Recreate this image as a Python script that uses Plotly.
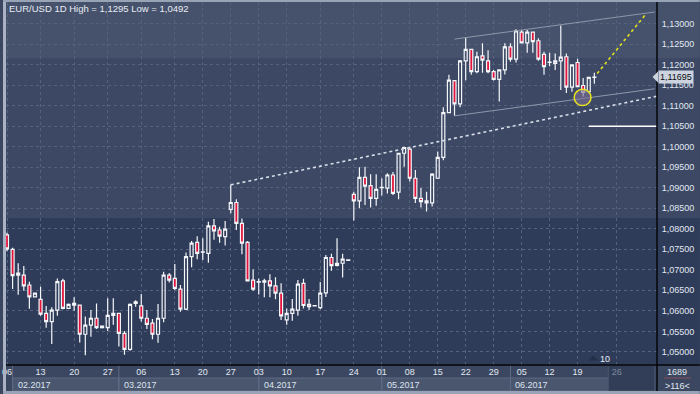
import plotly.graph_objects as go

# ---------------- data ----------------
bar_index = list(range(106))
opens = [1.0785, 1.0750, 1.0687, 1.0687, 1.0663, 1.0634, 1.0628, 1.0594, 1.0574, 1.0602,
         1.0673, 1.0606, 1.0618, 1.0614, 1.0543, 1.0565, 1.0582, 1.0559, 1.0559, 1.0589,
         1.0594, 1.0545, 1.0506, 1.0618, 1.0612, 1.0582, 1.0570, 1.0543, 1.0582, 1.0687,
         1.0679, 1.0653, 1.0604, 1.0732, 1.0767, 1.0743, 1.0740, 1.0807, 1.0797, 1.0781,
         1.0847, 1.0864, 1.0813, 1.0767, 1.0675, 1.0670, 1.0670, 1.0673, 1.0661, 1.0643,
         1.0578, 1.0594, 1.0602, 1.0667, 1.0616, 1.0612, 1.0608, 1.0644, 1.0730, 1.0711,
         1.0716, 1.0723, 1.0884, 1.0868, 1.0925, 1.0905, 1.0874, 1.0900, 1.0899, 1.0931,
         1.0889, 1.0984, 1.0994, 1.0923, 1.0874, 1.0868, 1.0863, 1.0923, 1.0974, 1.1083,
         1.1161, 1.1104, 1.1209, 1.1237, 1.1183, 1.1221, 1.1209, 1.1183, 1.1164, 1.1187,
         1.1243, 1.1213, 1.1279, 1.1253, 1.1279, 1.1258, 1.1225, 1.1205, 1.1203, 1.1209,
         1.1219, 1.1145, 1.1205, 1.1149, 1.1134, 1.1169]
highs = [1.0790, 1.0754, 1.0716, 1.0709, 1.0671, 1.0644, 1.0659, 1.0612, 1.0609, 1.0679,
         1.0678, 1.0618, 1.0633, 1.0615, 1.0586, 1.0602, 1.0618, 1.0564, 1.0631, 1.0631,
         1.0595, 1.0551, 1.0618, 1.0626, 1.0641, 1.0602, 1.0580, 1.0617, 1.0695, 1.0692,
         1.0714, 1.0663, 1.0742, 1.0770, 1.0782, 1.0777, 1.0817, 1.0824, 1.0805, 1.0819,
         1.0907, 1.0872, 1.0825, 1.0770, 1.0701, 1.0679, 1.0678, 1.0689, 1.0682, 1.0667,
         1.0606, 1.0629, 1.0675, 1.0678, 1.0629, 1.0614, 1.0670, 1.0736, 1.0739, 1.0777,
         1.0739, 1.0725, 1.0890, 1.0950, 1.0951, 1.0933, 1.0933, 1.0923, 1.0935, 1.0938,
         1.0985, 1.1000, 1.1000, 1.0943, 1.0899, 1.0890, 1.0935, 1.0988, 1.1096, 1.1175,
         1.1162, 1.1211, 1.1266, 1.1238, 1.1231, 1.1252, 1.1235, 1.1187, 1.1188, 1.1252,
         1.1252, 1.1286, 1.1284, 1.1284, 1.1280, 1.1264, 1.1231, 1.1229, 1.1227, 1.1295,
         1.1227, 1.1200, 1.1214, 1.1167, 1.1170, 1.1180]
lows = [1.0745, 1.0653, 1.0639, 1.0649, 1.0605, 1.0633, 1.0588, 1.0559, 1.0519, 1.0588,
        1.0604, 1.0605, 1.0600, 1.0523, 1.0492, 1.0537, 1.0556, 1.0557, 1.0551, 1.0566,
        1.0513, 1.0493, 1.0503, 1.0610, 1.0574, 1.0556, 1.0531, 1.0522, 1.0572, 1.0669,
        1.0651, 1.0598, 1.0602, 1.0706, 1.0726, 1.0724, 1.0717, 1.0773, 1.0766, 1.0759,
        1.0838, 1.0797, 1.0738, 1.0672, 1.0649, 1.0640, 1.0633, 1.0633, 1.0628, 1.0578,
        1.0566, 1.0576, 1.0588, 1.0606, 1.0602, 1.0611, 1.0604, 1.0634, 1.0698, 1.0708,
        1.0681, 1.0723, 1.0820, 1.0850, 1.0858, 1.0852, 1.0856, 1.0881, 1.0886, 1.0882,
        1.0872, 1.0951, 1.0915, 1.0863, 1.0852, 1.0842, 1.0854, 1.0921, 1.0967, 1.1082,
        1.1075, 1.1096, 1.1162, 1.1175, 1.1179, 1.1180, 1.1179, 1.1161, 1.1110, 1.1176,
        1.1207, 1.1205, 1.1252, 1.1229, 1.1229, 1.1209, 1.1175, 1.1196, 1.1187, 1.1138,
        1.1131, 1.1134, 1.1145, 1.1122, 1.1131, 1.1153]
closes = [1.0751, 1.0686, 1.0692, 1.0661, 1.0634, 1.0643, 1.0592, 1.0574, 1.0602, 1.0671,
          1.0606, 1.0616, 1.0614, 1.0543, 1.0565, 1.0582, 1.0559, 1.0563, 1.0589, 1.0594,
          1.0545, 1.0506, 1.0616, 1.0622, 1.0582, 1.0567, 1.0543, 1.0582, 1.0687, 1.0675,
          1.0655, 1.0604, 1.0732, 1.0765, 1.0740, 1.0744, 1.0807, 1.0795, 1.0782, 1.0799,
          1.0864, 1.0813, 1.0765, 1.0673, 1.0653, 1.0671, 1.0673, 1.0661, 1.0643, 1.0588,
          1.0594, 1.0604, 1.0665, 1.0613, 1.0610, 1.0613, 1.0643, 1.0730, 1.0710, 1.0716,
          1.0726, 1.0724, 1.0868, 1.0925, 1.0904, 1.0874, 1.0896, 1.0901, 1.0931, 1.0886,
          1.0984, 1.0998, 1.0923, 1.0874, 1.0866, 1.0863, 1.0933, 1.0974, 1.1083, 1.1162,
          1.1104, 1.1209, 1.1237, 1.1183, 1.1219, 1.1211, 1.1183, 1.1164, 1.1187, 1.1243,
          1.1213, 1.1282, 1.1253, 1.1279, 1.1256, 1.1213, 1.1195, 1.1206, 1.1209, 1.1218,
          1.1145, 1.1199, 1.1146, 1.1132, 1.1169, 1.11695]

week_tick_index = [0, 6, 12, 18, 24, 30, 35, 40, 45, 50, 56, 62, 67, 72, 77, 82, 87, 92, 97, 102, 109]
week_tick_text = ["06", "13", "20", "27", "06", "13", "20", "27", "03", "10", "17", "24",
                  "01", "08", "15", "22", "29", "05", "12", "19", "26"]
month_start_index = [1, 20, 45, 67, 90]
month_labels = ["02.2017", "03.2017", "04.2017", "05.2017", "06.2017"]
future_start_index = 107.5

price_ticks = [1.050, 1.055, 1.060, 1.065, 1.070, 1.075, 1.080, 1.085, 1.090,
               1.095, 1.100, 1.105, 1.110, 1.115, 1.120, 1.125, 1.130]
last_price = 1.11695

# drawings on the chart
support_x = [40, 116.2]
support_y = [1.0907, 1.1123]
channel_upper_x = [80, 115.8]
channel_upper_y = [1.1262, 1.1328]
channel_lower_x = [80, 115.8]
channel_lower_y = [1.1075, 1.1141]
projection_x = [105.5, 114.1]
projection_y = [1.1178, 1.1321]
level_x = [104, 116.2]
level_y = [1.1050, 1.1050]
circle_x = [101.4, 104.4]
circle_y = [1.1100, 1.1140]

title_text = "EUR/USD 1D High = 1,1295 Low = 1,0492"

# ---------------- figure ----------------
X_RANGE = [-0.18, 116.2]
Y_RANGE = [1.04681, 1.13524]
W, H = 700, 394
ML, MR, MT, MB = 3, 43, 2, 29
PW, PH = W - ML - MR, H - MT - MB
FONT = "Liberation Sans, Arial, sans-serif"


def px_x(p):  # pixel -> paper x
    return (p - ML) / PW


def px_y(p):  # pixel -> paper y
    return (H - MB - p) / PH


def idx_x(i):  # bar index -> paper x
    return (i - X_RANGE[0]) / (X_RANGE[1] - X_RANGE[0])


def price_y(v):
    return (v - Y_RANGE[0]) / (Y_RANGE[1] - Y_RANGE[0])


fig = go.Figure()
fig.add_trace(go.Candlestick(
    x=bar_index, open=opens, high=highs, low=lows, close=closes,
    increasing=dict(line=dict(color="#f4f6fa", width=1.2), fillcolor="rgba(0,0,0,0)"),
    decreasing=dict(line=dict(color="#f4f6fa", width=1.2), fillcolor="#e3123a"),
    whiskerwidth=0, hoverinfo="skip", showlegend=False,
))

line_specs = [
    (support_x, support_y, dict(color="#d9dee8", width=1.6, dash="dot")),
    (channel_upper_x, channel_upper_y, dict(color="#8e97aa", width=1)),
    (channel_lower_x, channel_lower_y, dict(color="#8e97aa", width=1)),
    (projection_x, projection_y, dict(color="#e3e31c", width=1.6, dash="dot")),
    (level_x, level_y, dict(color="#ffffff", width=1.5)),
]
for xs, ys, ln in line_specs:
    fig.add_trace(go.Scatter(x=xs, y=ys, mode="lines", line=ln,
                             hoverinfo="skip", showlegend=False))

shapes = []
# background bands (span plot + right axis)
for y0, y1, col in [(2, 58, "#46526b"), (58, 218, "#3c4864"), (218, 365, "#2f3c59")]:
    shapes.append(dict(type="rect", xref="paper", yref="paper", layer="below",
                       x0=px_x(3), x1=px_x(700), y0=px_y(y1), y1=px_y(y0),
                       fillcolor=col, line=dict(width=0)))

# month row boxes
bounds = month_start_index + [future_start_index]
for k in range(len(month_labels)):
    shapes.append(dict(type="rect", xref="paper", yref="paper", layer="below",
                       x0=idx_x(bounds[k]), x1=idx_x(bounds[k + 1]),
                       y0=px_y(391), y1=px_y(378),
                       fillcolor="#4a556e", line=dict(color="#5c6882", width=1)))
# future region
shapes.append(dict(type="rect", xref="paper", yref="paper", layer="below",
                   x0=idx_x(future_start_index), x1=idx_x(115.8),
                   y0=px_y(391), y1=px_y(365),
                   fillcolor="#323e57", line=dict(color="#48536b", width=1)))
for b in month_start_index:
    shapes.append(dict(type="line", xref="paper", yref="paper", layer="below",
                       x0=idx_x(b), x1=idx_x(b), y0=px_y(391), y1=px_y(365),
                       line=dict(color="#5f6b85", width=1)))

# frame and separators
frame = "#98a3b6"
shapes += [
    dict(type="rect", xref="paper", yref="paper", x0=px_x(0), x1=px_x(3), y0=px_y(394), y1=px_y(0),
         fillcolor="#a9b3c4", line=dict(width=0)),
    dict(type="rect", xref="paper", yref="paper", x0=px_x(0), x1=px_x(700), y0=px_y(2), y1=px_y(0),
         fillcolor=frame, line=dict(width=0)),
    dict(type="rect", xref="paper", yref="paper", x0=px_x(0), x1=px_x(700), y0=px_y(394), y1=px_y(391),
         fillcolor=frame, line=dict(width=0)),
    dict(type="line", xref="paper", yref="paper", x0=px_x(3), x1=px_x(700), y0=0, y1=0,
         line=dict(color="#050608", width=1.5)),
    dict(type="line", xref="paper", yref="paper", x0=1, x1=1, y0=px_y(391), y1=1,
         line=dict(color="#050608", width=1.5)),
    dict(type="line", xref="paper", yref="paper", x0=px_x(664), x1=px_x(691),
         y0=px_y(378), y1=px_y(378), line=dict(color="#86505c", width=1)),
]

# circle marker
shapes.append(dict(type="circle", xref="x", yref="y", layer="above",
                   x0=circle_x[0], x1=circle_x[1], y0=circle_y[0], y1=circle_y[1],
                   fillcolor="rgba(125,112,150,0.6)", line=dict(color="#e8e21e", width=1.5)))

# price tag arrow
ty = price_y(last_price)
dy = 5.5 / PH
shapes.append(dict(type="path", xref="paper", yref="paper",
                   path=f"M {px_x(652.5)},{ty} L {px_x(658)},{ty + dy} L {px_x(658)},{ty - dy} Z",
                   fillcolor="#cdd4df", line=dict(width=0)))
# small marker triangle near "10"
shapes.append(dict(type="path", xref="paper", yref="paper",
                   path=f"M {px_x(593)},{px_y(355.5)} L {px_x(598)},{px_y(360.5)} L {px_x(588)},{px_y(360.5)} Z",
                   fillcolor="#243049", line=dict(width=0)))

annotations = [
    dict(text=title_text, xref="paper", yref="paper", x=px_x(4.5), y=px_y(8.5),
         xanchor="left", yanchor="middle", showarrow=False,
         font=dict(family=FONT, size=9.5, color="#e6ecf4")),
    dict(text=f"{last_price:.5f}".replace(".", ","), xref="paper", yref="paper",
         x=px_x(658), y=ty, xanchor="left", yanchor="middle", showarrow=False,
         bgcolor="#cdd4df", borderpad=1, font=dict(family=FONT, size=9, color="#0b0d12")),
    dict(text="1689", xref="paper", yref="paper", x=px_x(677.5), y=px_y(372),
         xanchor="center", yanchor="middle", showarrow=False,
         font=dict(family=FONT, size=9, color="#e1e8f1")),
    dict(text="&gt;116&lt;", xref="paper", yref="paper", x=px_x(677.5), y=px_y(385.5),
         xanchor="center", yanchor="middle", showarrow=False,
         font=dict(family=FONT, size=9, color="#e1e8f1")),
    dict(text="10", xref="paper", yref="paper", x=px_x(605), y=px_y(358.5),
         xanchor="center", yanchor="middle", showarrow=False,
         font=dict(family=FONT, size=9, color="#e8eef6")),
]
for k, lab in enumerate(month_labels):
    annotations.append(dict(text=lab, xref="paper", yref="paper",
                            x=idx_x(month_start_index[k]) + 3 / PW, y=px_y(384.5),
                            xanchor="left", yanchor="middle", showarrow=False,
                            font=dict(family=FONT, size=9, color="#dde5ef")))

tick_text = [t if i < 106 else f'<span style="color:#7d8aa2">{t}</span>'
             for i, t in zip(week_tick_index, week_tick_text)]

fig.update_layout(
    width=W, height=H,
    margin=dict(l=ML, r=MR, t=MT, b=MB, pad=0),
    paper_bgcolor="#3b4760", plot_bgcolor="rgba(0,0,0,0)",
    font=dict(family=FONT, size=9, color="#e1e8f1"),
    showlegend=False, boxgap=0.24,
    shapes=shapes, annotations=annotations,
    xaxis=dict(range=X_RANGE, tickmode="array", tickvals=week_tick_index, ticktext=tick_text,
               showgrid=True, gridcolor="#56627c", griddash="3px,3px", gridwidth=1,
               zeroline=False, showline=False, ticks="", ticklen=0,
               ticklabeloverflow="allow",
               tickfont=dict(family=FONT, size=9, color="#e1e8f1"),
               rangeslider=dict(visible=False), fixedrange=True),
    yaxis=dict(range=Y_RANGE, side="right", tickmode="array", tickvals=price_ticks,
               ticktext=[f"{v:.5f}".replace(".", ",") for v in price_ticks],
               showgrid=True, gridcolor="#56627c", griddash="3px,3px", gridwidth=1,
               zeroline=False, showline=False, ticks="outside", ticklen=2, tickcolor="rgba(0,0,0,0)",
               tickfont=dict(family=FONT, size=9, color="#e1e8f1"), fixedrange=True),
)

fig.write_html("out.html", config={"displayModeBar": False},
               post_script="document.body.style.margin='0';")
